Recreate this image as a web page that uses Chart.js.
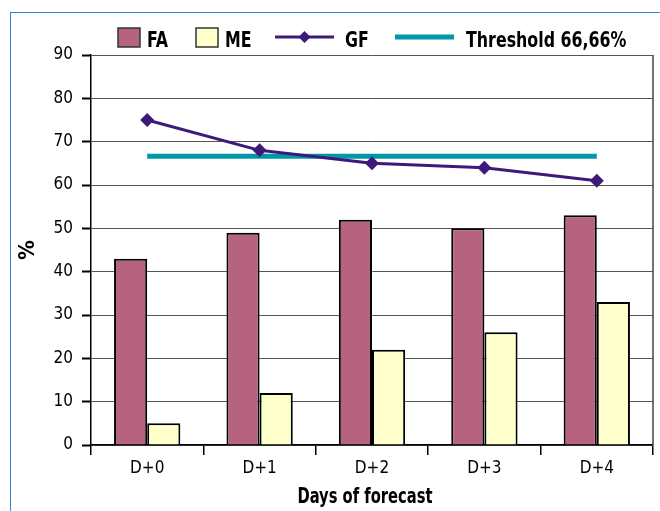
<!DOCTYPE html>
<html>
<head>
<meta charset="utf-8">
<script src="https://cdn.jsdelivr.net/npm/chart.js@4.4.1/dist/chart.umd.min.js"></script>
<style>
    html, body { margin: 0; padding: 0; background: #fff; }
    .wrap { position: relative; width: 660px; height: 511px; overflow: hidden; }
    .frame { position: absolute; left: 10px; top: 12px; width: 700px; height: 600px; border-left: 1px solid #3585cf; border-top: 1px solid #3585cf; }
    canvas { position: absolute; left: 0; top: 0; }
</style>
</head>
<body>
<div class="wrap">
    <div class="frame"></div>
    <canvas id="forecast-chart" width="660" height="511"></canvas>
</div>
<script>
const days = ['D+0', 'D+1', 'D+2', 'D+3', 'D+4']
const faValues = [43, 49, 52, 50, 53]
const meValues = [5, 12, 22, 26, 33]
const gfValues = [75, 68, 65, 64, 61]
const thresholdValues = [66.66, 66.66, 66.66, 66.66, 66.66]

const fontFamily = "'Liberation Sans Narrow', 'DejaVu Sans Condensed', 'Arial Narrow', sans-serif"
const faColor = '#b5637f'
const meColor = '#ffffcc'
const gfColor = '#3d1a7a'
const thresholdColor = '#0097a9'

// the original uses a condensed face, so bold labels are squeezed horizontally
const narrowText = (ctx, text, x, y, align = 'left', squeeze = 0.78) => {
    ctx.save()
    ctx.translate(x, y)
    ctx.scale(squeeze, 1)
    ctx.textAlign = align
    ctx.fillText(text, 0, 0)
    ctx.restore()
}

// legend with box items for bars, line items (with marker) for lines
const customLegend = {
    id: 'customLegend',
    afterDraw: chart => {
        const ctx = chart.ctx
        const y = 38
        ctx.save()
        ctx.font = `bold 22px ${fontFamily}`
        ctx.textBaseline = 'alphabetic'

        const box = (x, color) => {
            ctx.fillStyle = color
            ctx.fillRect(x, y - 10, 22, 19)
            ctx.strokeStyle = '#333'
            ctx.lineWidth = 1.5
            ctx.strokeRect(x, y - 10, 22, 19)
        }
        const line = (x, color, width, marker) => {
            ctx.strokeStyle = color
            ctx.lineWidth = width
            ctx.beginPath()
            ctx.moveTo(x, y - 1)
            ctx.lineTo(x + 59, y - 1)
            ctx.stroke()
            if (marker) {
                ctx.fillStyle = color
                ctx.beginPath()
                ctx.moveTo(x + 29.5, y - 7)
                ctx.lineTo(x + 35.5, y - 1)
                ctx.lineTo(x + 29.5, y + 5)
                ctx.lineTo(x + 23.5, y - 1)
                ctx.closePath()
                ctx.fill()
            }
        }
        const label = (x, text) => {
            ctx.fillStyle = '#000'
            narrowText(ctx, text, x, y + 8.5, 'left', 0.8)
        }

        box(118, faColor)
        label(147, 'FA')
        box(196, meColor)
        label(225, 'ME')
        line(275, gfColor, 3, true)
        label(345, 'GF')
        line(395, thresholdColor, 5, false)
        label(466, 'Threshold 66,66%')

        // x axis title
        ctx.font = `bold 21px ${fontFamily}`
        narrowText(ctx, 'Days of forecast', 365, 503, 'center')
        ctx.restore()
    }
}

const plotFrame = {
    id: 'plotFrame',
    beforeDatasetsDraw: chart => {
        const { ctx, chartArea } = chart
        ctx.save()
        ctx.strokeStyle = '#444'
        ctx.lineWidth = 1.5
        ctx.beginPath()
        ctx.moveTo(chartArea.right, chartArea.top)
        ctx.lineTo(chartArea.right, chartArea.bottom)
        ctx.stroke()
        ctx.restore()
    }
}

new Chart(document.querySelector('#forecast-chart'), {
    type: 'bar',
    data: {
        labels: days,
        datasets: [
            {
                type: 'line',
                label: 'GF',
                data: gfValues,
                borderColor: gfColor,
                backgroundColor: gfColor,
                borderWidth: 3,
                pointStyle: 'rectRot',
                pointRadius: 7,
                pointBorderWidth: 0,
                tension: 0,
                order: 0
            },
            {
                type: 'line',
                label: 'Threshold 66,66%',
                data: thresholdValues,
                borderColor: thresholdColor,
                borderWidth: 5,
                pointRadius: 0,
                order: 1
            },
            {
                label: 'FA',
                data: faValues,
                backgroundColor: faColor,
                borderColor: '#000',
                borderWidth: 2,
                order: 2
            },
            {
                label: 'ME',
                data: meValues,
                backgroundColor: meColor,
                borderColor: '#000',
                borderWidth: 2,
                order: 2
            }
        ]
    },
    options: {
        responsive: false,
        animation: false,
        devicePixelRatio: 1,
        categoryPercentage: 0.59,
        barPercentage: 1,
        layout: {
            padding: { top: 55, right: 7, left: 0, bottom: 0 }
        },
        plugins: {
            legend: { display: false },
            tooltip: { enabled: false }
        },
        scales: {
            x: {
                afterFit: scale => { scale.height = 66 },
                grid: {
                    offset: true,
                    drawOnChartArea: false,
                    tickLength: 10,
                    tickColor: '#000',
                    lineWidth: 1.5
                },
                border: { color: '#000', width: 1.5 },
                ticks: {
                    color: '#000',
                    padding: 3,
                    font: { family: fontFamily, size: 17 }
                }
            },
            y: {
                min: 0,
                max: 90,
                afterFit: scale => { scale.width = 91 },
                grid: {
                    color: '#555',
                    lineWidth: 1,
                    tickLength: 9,
                    tickColor: '#000',
                    tickWidth: 2
                },
                border: { color: '#000', width: 1.5 },
                ticks: {
                    stepSize: 10,
                    color: '#000',
                    padding: 9,
                    font: { family: fontFamily, size: 17 }
                },
                title: {
                    display: true,
                    text: '%',
                    color: '#000',
                    padding: { top: 15, bottom: 0 },
                    font: { family: fontFamily, size: 22, weight: 'bold', lineHeight: 1.2 }
                }
            }
        }
    },
    plugins: [customLegend, plotFrame]
})
</script>
</body>
</html>
